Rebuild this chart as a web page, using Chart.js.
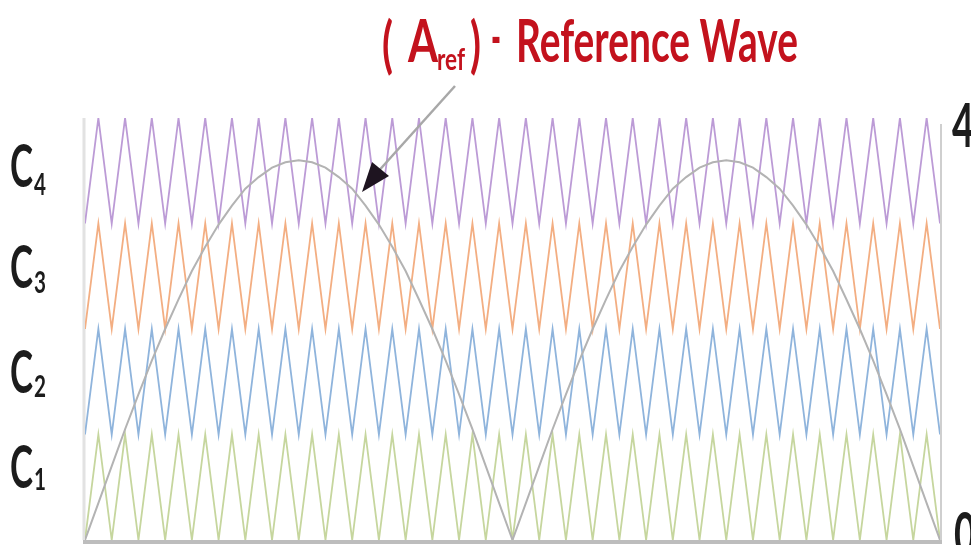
<!DOCTYPE html>
<html>
<head>
<meta charset="utf-8">
<script src="https://cdn.jsdelivr.net/npm/chart.js@4.4.1/dist/chart.umd.min.js"></script>
<style>
  html, body { margin: 0; padding: 0; background: #fff; }
  #wrap { width: 971px; height: 545px; }
</style>
</head>
<body>
<div id="wrap"><canvas id="myChart" width="971" height="545"></canvas></div>
<script>
// carriers: level-shifted triangles, 32 periods over the window (64 half steps)
var halfSteps = 64;
var carrierNames = ['C1', 'C2', 'C3', 'C4'];
var carrierLow = [0, 1, 2, 3];
var carrierHigh = [1, 2, 3, 4];
var carrierColors = ['#c6d69e', '#8fb4dc', '#f3ae82', '#bc9bd6'];

// reference wave read at each carrier half step
var refWave = [
  0, 0.35, 0.70, 1.05, 1.38, 1.70, 2.00, 2.28, 2.55, 2.78, 2.99, 3.17, 3.33, 3.44, 3.53, 3.58, 3.60,
  3.58, 3.53, 3.44, 3.33, 3.17, 2.99, 2.78, 2.55, 2.28, 2.00, 1.70, 1.38, 1.05, 0.70, 0.35, 0,
  0.35, 0.70, 1.05, 1.38, 1.70, 2.00, 2.28, 2.55, 2.78, 2.99, 3.17, 3.33, 3.44, 3.53, 3.58, 3.60,
  3.58, 3.53, 3.44, 3.33, 3.17, 2.99, 2.78, 2.55, 2.28, 2.00, 1.70, 1.38, 1.05, 0.70, 0.35, 0
];
var axisLabels = ['0', '4'];

function carrierPoints(i) {
    var pts = [];
    for (var k = 0; k <= halfSteps; k++) {
        pts.push({ x: k, y: (k % 2 == 0) ? carrierLow[i] : carrierHigh[i] });
    }
    return pts;
}

var datasets = [];
datasets.push({
    label: 'Aref',
    data: refWave.map(function (v, k) { return { x: k, y: v }; }),
    borderColor: '#b3b3b3',
    borderWidth: 2,
    pointRadius: 0,
    tension: 0,
    order: 0
});
for (var i = 0; i < carrierNames.length; i++) {
    datasets.push({
        label: carrierNames[i],
        data: carrierPoints(i),
        borderColor: carrierColors[i],
        borderWidth: 1.8,
        pointRadius: 0,
        tension: 0,
        order: 1
    });
}

// text is tall and narrow in the picture, so draw it stretched
function stretchText(ctx, text, x, base, size, sy, color, targetW, weight) {
    ctx.save();
    ctx.font = (weight || 'normal') + ' ' + size + 'px Lato, "Open Sans", sans-serif';
    var w = ctx.measureText(text).width;
    var sx = targetW ? targetW / w : 1;
    ctx.fillStyle = color;
    ctx.translate(x, base);
    ctx.scale(sx, sy);
    ctx.textBaseline = 'alphabetic';
    ctx.fillText(text, 0, 0);
    ctx.restore();
}

var decor = {
    id: 'decor',
    beforeDatasetsDraw: function (chart) {
        var ctx = chart.ctx;
        var xs = chart.scales.x, ys = chart.scales.y;
        var l = xs.getPixelForValue(0), r = xs.getPixelForValue(halfSteps);
        var t = ys.getPixelForValue(4), b = ys.getPixelForValue(0);
        ctx.save();
        ctx.strokeStyle = '#e2e2e2';
        ctx.lineWidth = 3;
        ctx.beginPath(); ctx.moveTo(l - 1, t); ctx.lineTo(l - 1, b); ctx.stroke();
        ctx.strokeStyle = '#cfcfcf';
        ctx.lineWidth = 2;
        ctx.beginPath(); ctx.moveTo(r + 1, t + 6); ctx.lineTo(r + 1, b); ctx.stroke();
        ctx.restore();
    },
    afterDatasetsDraw: function (chart) {
        var ctx = chart.ctx;
        var xs = chart.scales.x, ys = chart.scales.y;
        var l = xs.getPixelForValue(0), r = xs.getPixelForValue(halfSteps);
        var b = ys.getPixelForValue(0);
        ctx.save();
        // bottom axis line
        ctx.strokeStyle = '#bdbdbd';
        ctx.lineWidth = 4;
        ctx.beginPath(); ctx.moveTo(l - 2, b + 2); ctx.lineTo(r + 2, b + 2); ctx.stroke();

        // arrow to the reference wave
        ctx.strokeStyle = '#a8a8a8';
        ctx.lineWidth = 2.5;
        ctx.beginPath(); ctx.moveTo(455, 86); ctx.lineTo(375, 175); ctx.stroke();
        ctx.fillStyle = '#1e1420';
        ctx.beginPath();
        ctx.moveTo(362, 192);
        ctx.lineTo(372, 162);
        ctx.lineTo(389, 176);
        ctx.closePath();
        ctx.fill();
        ctx.restore();

        // title
        var red = '#c3121d';
        stretchText(ctx, '(', 382, 66, 40, 1.55, red, null, 'bold');
        stretchText(ctx, 'A', 408, 62, 40, 1.5, red, 30, 'bold');
        stretchText(ctx, 'ref', 437, 70, 22, 1.4, red, 28, 'bold');
        stretchText(ctx, ')', 470, 66, 40, 1.55, red, null, 'bold');
        stretchText(ctx, '-', 491, 58, 40, 1.5, red, 10, 'bold');
        stretchText(ctx, 'Reference Wave', 516, 62, 40, 1.5, red, 282, 'bold');

        // carrier names
        var dark = '#1c1c1c';
        var cBase = [488, 393, 288, 187];
        var sBase = [490, 397, 293, 195];
        for (var i = 0; i < carrierNames.length; i++) {
            stretchText(ctx, 'C', 10, cBase[i], 36, 1.65, dark, 23, 'bold');
            stretchText(ctx, carrierNames[i].substring(1), 34, sBase[i], 22, 1.35, dark, 12, 'bold');
        }

        // right side levels
        stretchText(ctx, axisLabels[1], 952, 147, 36, 1.7, dark, 22, 'bold');
        stretchText(ctx, axisLabels[0], 954, 556, 36, 1.7, dark, 22, 'bold');
    }
};

var myChart = new Chart('myChart', {
    type: 'line',
    data: { datasets: datasets },
    options: {
        responsive: false,
        animation: false,
        devicePixelRatio: 1,
        layout: { padding: { left: 85, right: 31, top: 118, bottom: 5 } },
        plugins: {
            legend: { display: false },
            tooltip: { enabled: false },
            title: { display: false }
        },
        scales: {
            x: { type: 'linear', min: 0, max: halfSteps, display: false },
            y: { min: 0, max: 4, display: false }
        }
    },
    plugins: [decor]
});
</script>
</body>
</html>
